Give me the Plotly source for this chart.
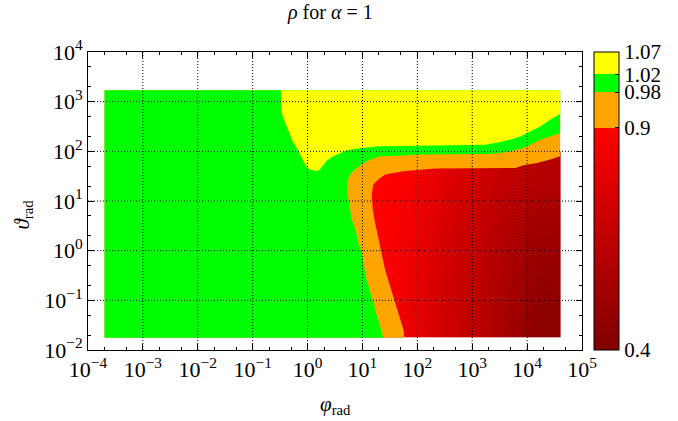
import plotly.graph_objects as go

# ---------------- data ----------------
# extent of the computed grid
phi_min, phi_max = 2.0e-4, 4.0e4
theta_min, theta_max = 0.0176, 1700.0

# boundary rho = 1.02 (yellow above / green below), left to right
yg_phi = [0.327, 0.327, 0.361, 0.404, 0.458, 0.535, 0.632, 0.726, 0.836, 0.964, 1.11, 1.47, 1.68,
          1.93, 2.23, 2.94, 3.90, 5.18, 9.70, 20.9, 112, 1730, 3240, 4930, 7520, 11400, 17400, 26500, 40000]
yg_theta = [1700, 690, 470, 344, 234, 159, 117, 85.9, 65.0, 47.6, 42.9, 39.6, 42.9,
            54.0, 65.0, 79.3, 92.9, 105, 117, 126, 130, 136, 155, 172, 200, 252, 318, 435, 566]

# boundary rho = 0.98 (green / orange), from right edge to bottom edge
go_phi = [40000, 26500, 17400, 11400, 8630, 4930, 3240, 1850, 112, 48.5, 20.9, 13.8, 9.70, 7.33, 5.94,
          5.30, 5.30, 5.77, 6.19, 6.38, 7.11, 7.87, 8.41, 9.70, 10.4, 11.6, 13.4, 15.8, 18.7, 21.8, 24.0]
go_theta = [234, 200, 172, 136, 117, 100, 92.9, 88.7, 85.9, 81.8, 79.3, 68.1, 54.0, 42.9, 34.0,
            24.9, 13.5, 8.47, 5.77, 4.23, 3.10, 2.11, 1.44, 0.904, 0.569, 0.305, 0.165, 0.0891, 0.0479, 0.0280, 0.0176]

# boundary rho = 0.9 (orange / red), from right edge to bottom edge
or_phi = [40000, 26500, 15200, 8630, 6100, 211, 112, 55.7, 36.6, 25.8, 19.5, 15.8, 14.8, 15.4,
          17.0, 19.5, 22.5, 25.8, 31.9, 39.4, 47.1, 55.7, 58.2]
or_theta = [79.3, 68.1, 58.5, 52.2, 46.3, 44.9, 42.9, 39.6, 36.7, 34.0, 27.0, 21.4, 13.5, 6.71,
            3.62, 1.81, 0.904, 0.417, 0.192, 0.0891, 0.0479, 0.0258, 0.0176]

# values of rho in the red region (coarse grid, cell edges)
red_phi_edges = [4.0, 31.6, 158, 1000, 6310, 40000]
red_theta_edges = [0.0176, 0.1, 1.0, 10.0, 100.0]
red_rho = [
    [0.90, 0.82, 0.70, 0.585, 0.45],
    [0.90, 0.83, 0.71, 0.60, 0.48],
    [0.90, 0.85, 0.73, 0.63, 0.53],
    [0.90, 0.88, 0.77, 0.68, 0.61],
]

# colour levels
levels = [0.4, 0.9, 0.98, 1.02, 1.07]
level_labels = ["0.4", "0.9", "0.98", "1.02", "1.07"]
c_dark, c_red, c_orange, c_green, c_yellow = "#800000", "#ff0000", "#ffa500", "#00ff00", "#ffff00"

x_ticks = [1e-4, 1e-3, 1e-2, 1e-1, 1e0, 1e1, 1e2, 1e3, 1e4, 1e5]
x_exps = ["−4", "−3", "−2", "−1", "0", "1", "2", "3", "4", "5"]
y_ticks = [1e-2, 1e-1, 1e0, 1e1, 1e2, 1e3, 1e4]
y_exps = ["−2", "−1", "0", "1", "2", "3", "4"]

FONT = "Liberation Serif, serif"

# ---------------- figure ----------------
lo, hi = levels[0], levels[-1]
def pos(v):
    return (v - lo) / (hi - lo)

colorscale = [
    [0.0, c_dark], [pos(levels[1]), c_red],
    [pos(levels[1]), c_orange], [pos(levels[2]), c_orange],
    [pos(levels[2]), c_green], [pos(levels[3]), c_green],
    [pos(levels[3]), c_yellow], [1.0, c_yellow],
]

fig = go.Figure()

fig.add_trace(go.Heatmap(
    x=red_phi_edges, y=red_theta_edges, z=red_rho,
    zmin=lo, zmax=hi, zsmooth="best", colorscale=colorscale,
    hoverinfo="skip",
    colorbar=dict(
        x=(594 - 88) / 494, xanchor="left", xpad=0, ypad=0,
        y=0.5, yanchor="middle", len=1, lenmode="fraction",
        thickness=25, outlinewidth=1, outlinecolor="black",
        tickvals=levels, ticktext=level_labels,
        ticks="inside", ticklen=4, tickcolor="black",
        tickfont=dict(family=FONT, size=21, color="black"),
    ),
))

# orange: everything outside the red region (rho > 0.9)
fig.add_trace(go.Scatter(
    x=[phi_min, phi_min, phi_max] + or_phi + [phi_min],
    y=[theta_min, theta_max, theta_max] + or_theta + [theta_min],
    fill="toself", fillcolor=c_orange, mode="lines", line=dict(width=0, color=c_orange),
    hoverinfo="skip", showlegend=False,
))
# green: rho > 0.98
fig.add_trace(go.Scatter(
    x=[phi_min, phi_min, phi_max] + go_phi + [phi_min],
    y=[theta_min, theta_max, theta_max] + go_theta + [theta_min],
    fill="toself", fillcolor=c_green, mode="lines", line=dict(width=0, color=c_green),
    hoverinfo="skip", showlegend=False,
))
# yellow: rho > 1.02
fig.add_trace(go.Scatter(
    x=yg_phi + [phi_max, yg_phi[0]],
    y=yg_theta + [theta_max, theta_max],
    fill="toself", fillcolor=c_yellow, mode="lines", line=dict(width=0, color=c_yellow),
    hoverinfo="skip", showlegend=False,
))

# dotted grid drawn above the data
gx, gy = [], []
for v in x_ticks[1:-1]:
    gx += [v, v, None]
    gy += [y_ticks[0], y_ticks[-1], None]
for v in y_ticks[1:-1]:
    gx += [x_ticks[0], x_ticks[-1], None]
    gy += [v, v, None]
fig.add_trace(go.Scatter(
    x=gx, y=gy, mode="lines", line=dict(color="black", width=1, dash="1px,2px"),
    hoverinfo="skip", showlegend=False,
))

axis_common = dict(
    type="log", showline=True, mirror="allticks", linecolor="black", linewidth=1,
    ticks="inside", ticklen=6, tickcolor="black", showgrid=False, zeroline=False,
    minor=dict(ticks="inside", ticklen=3, tickcolor="black", showgrid=False),
    tickfont=dict(family=FONT, size=22, color="black"),
    layer="above traces",
)

fig.update_layout(
    width=678, height=421,
    margin=dict(l=88, r=96, t=52, b=71),
    paper_bgcolor="white", plot_bgcolor="white",
    showlegend=False,
    xaxis=dict(range=[-4, 5], tickvals=x_ticks,
               ticktext=["10<sup>%s</sup>" % e for e in x_exps], **axis_common),
    yaxis=dict(range=[-2, 4], tickvals=y_ticks,
               ticktext=["10<sup>%s</sup>" % e for e in y_exps], **axis_common),
    annotations=[
        dict(text="<i>ρ</i> for <i>α</i> = 1", xref="paper", yref="paper",
             x=(330 - 88) / 494, y=1, yshift=40, xanchor="center", yanchor="middle",
             showarrow=False, font=dict(family=FONT, size=20, color="black")),
        dict(text="<i>φ</i><sub>rad</sub>", xref="paper", yref="paper",
             x=(335 - 88) / 494, y=0, yshift=-55, xanchor="center", yanchor="middle",
             showarrow=False, font=dict(family=FONT, size=21, color="black")),
        dict(text="<i>ϑ</i><sub>rad</sub>", xref="paper", yref="paper",
             x=0, xshift=-66, y=(350.5 - 215) / 298, xanchor="center", yanchor="middle",
             textangle=-90, showarrow=False, font=dict(family=FONT, size=21, color="black")),
    ],
)

fig.write_html("out.html", config={"displayModeBar": False})
